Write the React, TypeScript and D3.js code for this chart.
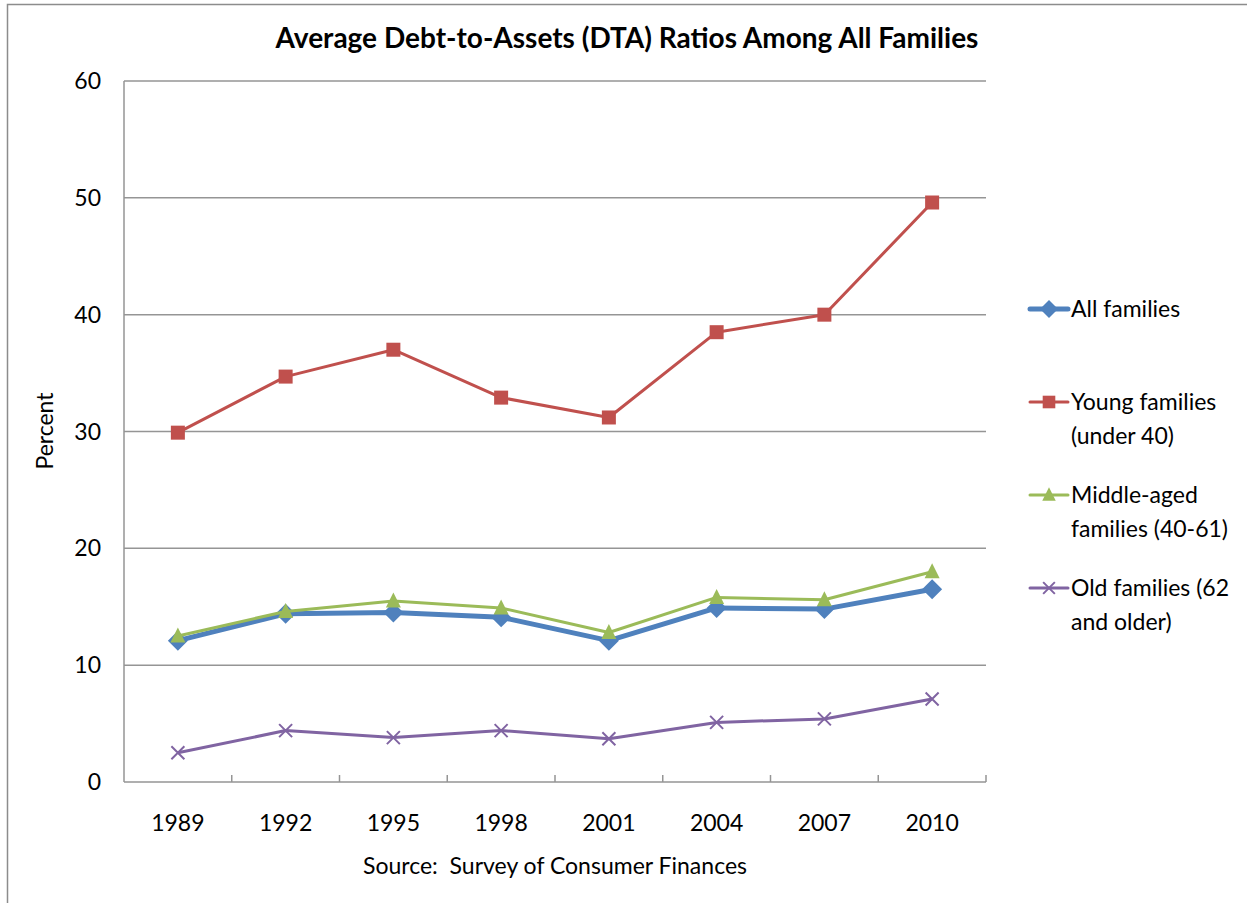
import React from "react";
import * as d3 from "d3";

const years = ["1989", "1992", "1995", "1998", "2001", "2004", "2007", "2010"];
const allFamilies = [12.1, 14.4, 14.5, 14.1, 12.1, 14.9, 14.8, 16.5];
const youngFamilies = [29.9, 34.7, 37.0, 32.9, 31.2, 38.5, 40.0, 49.6];
const middleFamilies = [12.5, 14.6, 15.5, 14.9, 12.8, 15.8, 15.6, 18.0];
const oldFamilies = [2.5, 4.4, 3.8, 4.4, 3.7, 5.1, 5.4, 7.1];
const yTicks = [0, 10, 20, 30, 40, 50, 60];

const FONT = "Lato, 'Open Sans', sans-serif";
const FS = 23;

type Series = { name: string[]; values: number[]; color: string; width: number; marker: string };
const series: Series[] = [
  { name: ["All families"], values: allFamilies, color: "#4F81BD", width: 5, marker: "diamond" },
  { name: ["Young families", "(under 40)"], values: youngFamilies, color: "#C0504D", width: 3, marker: "square" },
  { name: ["Middle-aged", "families (40-61)"], values: middleFamilies, color: "#9BBB59", width: 3, marker: "triangle" },
  { name: ["Old families (62", "and older)"], values: oldFamilies, color: "#8064A2", width: 3, marker: "x" },
];

function Marker({ type, x, y, color, scale = 1 }: { type: string; x: number; y: number; color: string; scale?: number }) {
  if (type === "diamond") {
    const r = 10 * scale;
    return <path d={`M${x},${y - r}L${x + r},${y}L${x},${y + r}L${x - r},${y}Z`} fill={color} />;
  }
  if (type === "square") {
    const s = 14 * scale;
    return <rect x={x - s / 2} y={y - s / 2} width={s} height={s} fill={color} />;
  }
  if (type === "triangle") {
    const s = 7.5 * scale;
    return <path d={`M${x},${y - s - 1}L${x + s},${y + s - 1}L${x - s},${y + s - 1}Z`} fill={color} />;
  }
  const r = 6.5 * scale;
  return (
    <path d={`M${x - r},${y - r}L${x + r},${y + r}M${x - r},${y + r}L${x + r},${y - r}`} stroke={color} strokeWidth={2} fill="none" />
  );
}

export default function App() {
  const W = 1247, H = 903;
  const left = 124, right = 986, top = 81, bottom = 782;
  const x = d3.scaleBand<string>().domain(years).range([left, right]);
  const y = d3.scaleLinear().domain([0, 60]).range([bottom, top]);
  const cx = (i: number) => (x(years[i]) as number) + x.bandwidth() / 2;
  const line = d3
    .line<number>()
    .x((_, i) => cx(i))
    .y((d) => y(d));

  const legendY = [309, 402, 495, 588];

  return (
    <div style={{ position: "absolute", left: 0, top: 0 }}>
      <svg width={W} height={H} style={{ display: "block", fontFamily: FONT }}>
        <rect x={0} y={0} width={W} height={H} fill="#fff" />
        <path d={`M7.5,${H}V4.5H${W}`} fill="none" stroke="#8c8c8c" strokeWidth={1.5} />
        <text x={627} y={48} textAnchor="middle" fontSize={28} fontWeight="bold" fill="#000">
          Average Debt-to-Assets (DTA) Ratios Among All Families
        </text>
        {yTicks.map((t) => (
          <g key={t}>
            {t > 0 && <line x1={left} x2={right} y1={y(t)} y2={y(t)} stroke="#959595" strokeWidth={1.5} />}
            <text x={101} y={y(t) + 8} textAnchor="end" fontSize={FS} fill="#000">
              {t}
            </text>
          </g>
        ))}
        <line x1={left} x2={left} y1={top} y2={bottom} stroke="#959595" strokeWidth={1.5} />
        <line x1={left} x2={right} y1={bottom} y2={bottom} stroke="#959595" strokeWidth={1.5} />
        {years.map((yr) => (
          <g key={yr}>
            <line
              x1={(x(yr) as number) + x.bandwidth()}
              x2={(x(yr) as number) + x.bandwidth()}
              y1={bottom}
              y2={bottom - 7}
              stroke="#959595"
              strokeWidth={1.5}
            />
            <text x={(x(yr) as number) + x.bandwidth() / 2} y={831} textAnchor="middle" fontSize={FS} fill="#000">
              {yr}
            </text>
          </g>
        ))}
        <text transform={`translate(53,431) rotate(-90)`} textAnchor="middle" fontSize={FS} fill="#000">
          Percent
        </text>
        <text x={555} y={874} textAnchor="middle" fontSize={FS} fill="#000" xmlSpace="preserve">
          Source:  Survey of Consumer Finances
        </text>
        {series.map((s) => (
          <g key={s.name[0]}>
            <path d={line(s.values) || ""} fill="none" stroke={s.color} strokeWidth={s.width} strokeLinejoin="round" />
            {s.values.map((v, i) => (
              <Marker key={i} type={s.marker} x={cx(i)} y={y(v)} color={s.color} />
            ))}
          </g>
        ))}
        {series.map((s, k) => (
          <g key={"lg" + k}>
            <line x1={1030} x2={1068} y1={legendY[k]} y2={legendY[k]} stroke={s.color} strokeWidth={s.width} strokeLinecap="round" />
            <Marker type={s.marker} x={1049} y={legendY[k]} color={s.color} scale={0.9} />
            {s.name.map((n, j) => (
              <text key={j} x={1071} y={legendY[k] + 8 + j * 34} fontSize={FS} fill="#000">
                {n}
              </text>
            ))}
          </g>
        ))}
      </svg>
    </div>
  );
}
